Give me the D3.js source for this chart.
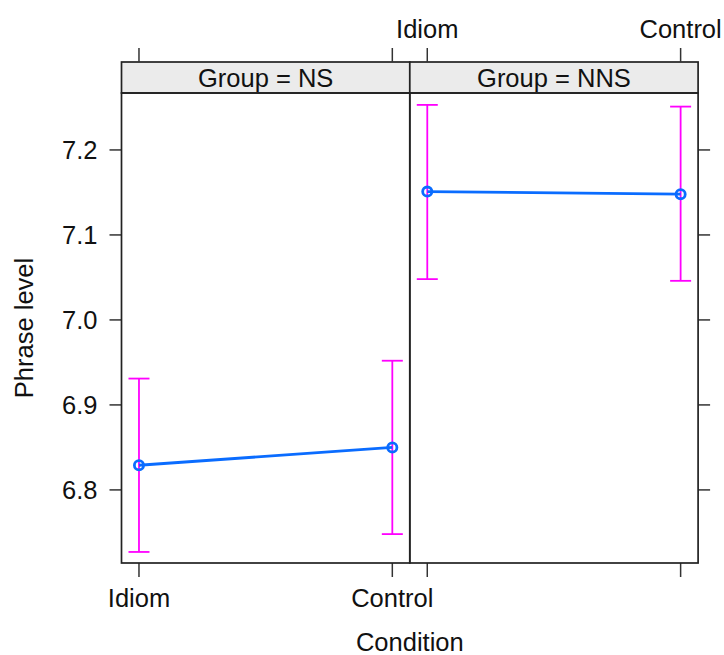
<!DOCTYPE html>
<html>
<head>
<meta charset="utf-8">
<script src="https://cdn.jsdelivr.net/npm/d3@7"></script>
<style>
  body { margin: 0; background: #fff; }
  text { font-family: "Liberation Sans", Arial, sans-serif; fill: #111; }
</style>
</head>
<body>
<div id="chart"></div>
<script>
// data
var conditions = ['Idiom', 'Control'];
var groups = ['NS', 'NNS'];
var fitNS = [6.829, 6.850];
var lowerNS = [6.727, 6.748];
var upperNS = [6.931, 6.952];
var fitNNS = [7.151, 7.148];
var lowerNNS = [7.048, 7.046];
var upperNNS = [7.253, 7.251];
var yTicks = [6.8, 6.9, 7.0, 7.1, 7.2];

var fits = [fitNS, fitNNS], lowers = [lowerNS, lowerNNS], uppers = [upperNS, upperNNS];

var W = 724, H = 655;
var padLeft = 121.5, panelW = 288.3, stripTop = 62, panelTop = 93, panelBottom = 563;
var fs = 25.5;

var svg = d3.select('#chart').append('svg')
  .attr('width', W)
  .attr('height', H);

var y = d3.scaleLinear()
  .domain([6.714, 7.267])
  .range([panelBottom, panelTop]);

groups.forEach(function (g, k) {
  var x0 = padLeft + k * panelW;
  var x = d3.scalePoint()
    .domain(conditions)
    .range([x0, x0 + panelW])
    .padding(0.069);

  var p = svg.append('g');

  // strip
  p.append('rect')
    .attr('x', x0).attr('y', stripTop)
    .attr('width', panelW).attr('height', panelTop - stripTop)
    .attr('fill', '#ebebeb')
    .attr('stroke', '#222').attr('stroke-width', 1.7);
  p.append('text')
    .attr('x', x0 + panelW / 2).attr('y', panelTop - 6)
    .attr('text-anchor', 'middle')
    .attr('font-size', fs)
    .text('Group = ' + g);

  // ticks: bottom/top on every panel, labels alternate
  conditions.forEach(function (c) {
    p.append('line')
      .attr('x1', x(c)).attr('x2', x(c))
      .attr('y1', panelBottom).attr('y2', panelBottom + 14)
      .attr('stroke', '#333').attr('stroke-width', 1.5);
    p.append('line')
      .attr('x1', x(c)).attr('x2', x(c))
      .attr('y1', stripTop).attr('y2', stripTop - 14)
      .attr('stroke', '#333').attr('stroke-width', 1.5);
    if (k === 0) {
      p.append('text')
        .attr('x', x(c)).attr('y', panelBottom + 44)
        .attr('text-anchor', 'middle')
        .attr('font-size', fs)
        .text(c);
    } else {
      p.append('text')
        .attr('x', x(c)).attr('y', stripTop - 24)
        .attr('text-anchor', 'middle')
        .attr('font-size', fs)
        .text(c);
    }
  });

  var yAxisX = k === 0 ? x0 : x0 + panelW;
  var dir = k === 0 ? -1 : 1;
  yTicks.forEach(function (t) {
    p.append('line')
      .attr('x1', yAxisX).attr('x2', yAxisX + dir * 12)
      .attr('y1', y(t)).attr('y2', y(t))
      .attr('stroke', '#333').attr('stroke-width', 1.5);
    if (k === 0) {
      p.append('text')
        .attr('x', yAxisX - 24).attr('y', y(t) + 9)
        .attr('text-anchor', 'end')
        .attr('font-size', fs)
        .text(d3.format('.1f')(t));
    }
  });

  // error bars
  conditions.forEach(function (c, i) {
    var cx = x(c);
    p.append('line')
      .attr('x1', cx).attr('x2', cx)
      .attr('y1', y(lowers[k][i])).attr('y2', y(uppers[k][i]))
      .attr('stroke', '#ff00ff').attr('stroke-width', 1.8);
    [lowers[k][i], uppers[k][i]].forEach(function (v) {
      p.append('line')
        .attr('x1', cx - 10.5).attr('x2', cx + 10.5)
        .attr('y1', y(v)).attr('y2', y(v))
        .attr('stroke', '#ff00ff').attr('stroke-width', 1.8);
    });
  });

  // fitted line
  var line = d3.line()
    .x(function (d, i) { return x(conditions[i]); })
    .y(function (d) { return y(d); });
  p.append('path')
    .datum(fits[k])
    .attr('d', line)
    .attr('fill', 'none')
    .attr('stroke', '#0a6cff')
    .attr('stroke-width', 2.8);
  p.selectAll('circle.pt')
    .data(fits[k])
    .enter().append('circle')
    .attr('class', 'pt')
    .attr('cx', function (d, i) { return x(conditions[i]); })
    .attr('cy', function (d) { return y(d); })
    .attr('r', 4.6)
    .attr('fill', 'none')
    .attr('stroke', '#0a6cff')
    .attr('stroke-width', 2.8);

  // panel border
  p.append('rect')
    .attr('x', x0).attr('y', panelTop)
    .attr('width', panelW).attr('height', panelBottom - panelTop)
    .attr('fill', 'none')
    .attr('stroke', '#222').attr('stroke-width', 1.7);
});

// axis titles
svg.append('text')
  .attr('x', padLeft + panelW).attr('y', 651)
  .attr('text-anchor', 'middle')
  .attr('font-size', fs)
  .text('Condition');

svg.append('text')
  .attr('transform', 'translate(33,' + (panelTop + panelBottom) / 2 + ')rotate(-90)')
  .attr('text-anchor', 'middle')
  .attr('font-size', fs)
  .text('Phrase level');
</script>
</body>
</html>
